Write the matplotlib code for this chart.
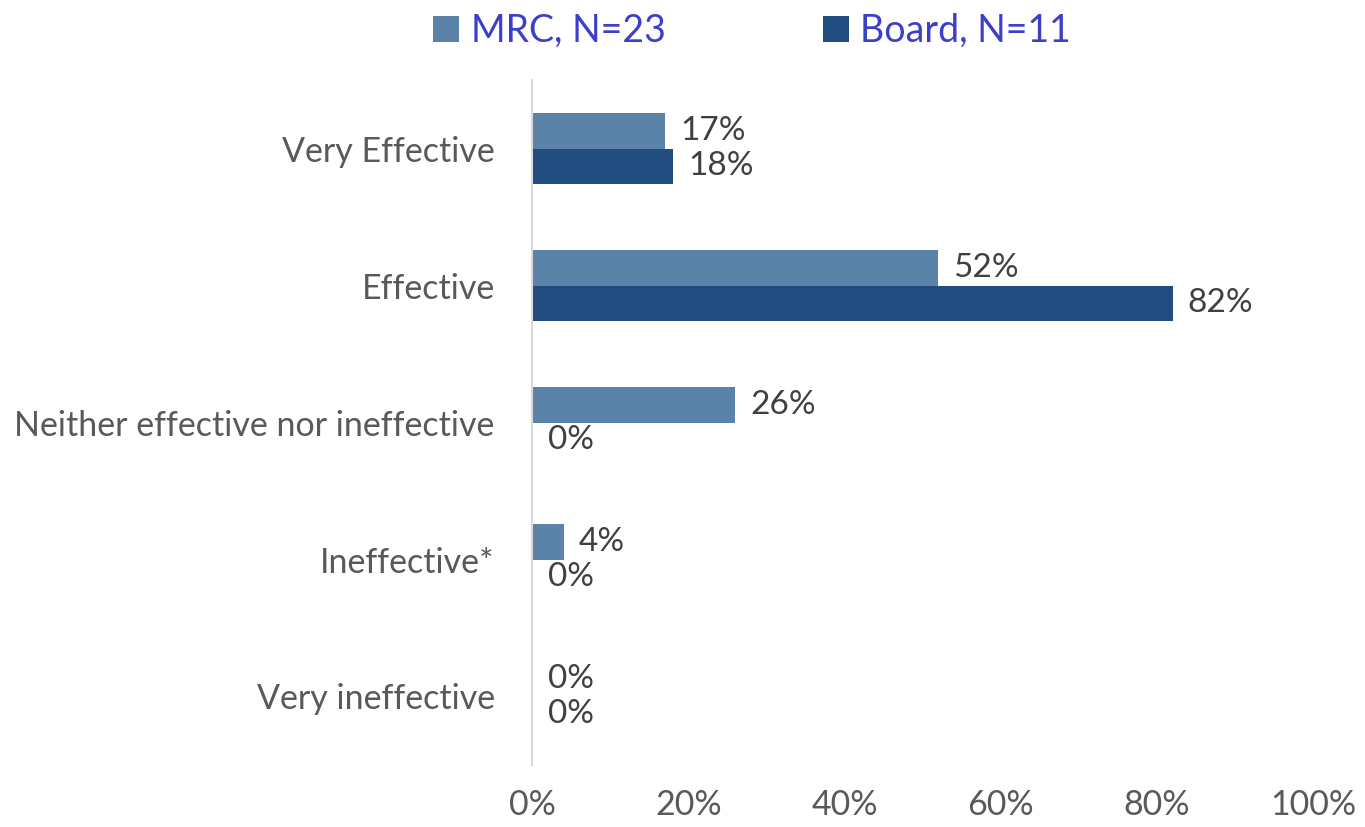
import matplotlib.pyplot as plt
import numpy as np

categories = ["Very Effective", "Effective", "Neither effective nor ineffective",
              "Ineffective*", "Very ineffective"]
mrc = [17, 52, 26, 4, 0]
board = [18, 82, 0, 0, 0]
series_names = ["MRC, N=23", "Board, N=11"]

mrc_color = "#5b83a9"
board_color = "#214c7f"
font = "Lato"

fig = plt.figure(figsize=(13.65, 8.27), dpi=100)
ax = fig.add_axes([0.39, 0.075, 0.572, 0.828])

y = np.arange(len(categories))
h = 0.26
b1 = ax.barh(y - h / 2, mrc, height=h, color=mrc_color, label=series_names[0])
b2 = ax.barh(y + h / 2, board, height=h, color=board_color, label=series_names[1])

for bars, vals in ((b1, mrc), (b2, board)):
    for bar, v in zip(bars, vals):
        ax.annotate(f"{v}%", (v, bar.get_y() + bar.get_height() / 2),
                    xytext=(11, 0), textcoords="offset points",
                    ha="left", va="center", fontsize=24, color="#404040",
                    family=font)

ax.set_xlim(0, 100)
ax.set_ylim(len(categories) - 0.5, -0.5)
ax.set_yticks(y)
ax.set_yticklabels(categories)
ax.set_xticks(range(0, 101, 20))
ax.set_xticklabels([f"{t}%" for t in range(0, 101, 20)])
ax.tick_params(axis="both", length=0, labelsize=24.5, labelcolor="#595959")
ax.tick_params(axis="x", pad=17)
ax.tick_params(axis="y", pad=27)
for lab in ax.get_xticklabels() + ax.get_yticklabels():
    lab.set_family(font)

for s in ["top", "right", "bottom"]:
    ax.spines[s].set_visible(False)
ax.spines["left"].set_color("#d9d9d9")
ax.spines["left"].set_linewidth(1.5)

leg = fig.legend(loc="upper center", bbox_to_anchor=(0.551, 1.025), ncol=2,
                 frameon=False, handlelength=0.7, handleheight=0.7,
                 handletextpad=0.3, columnspacing=4.2,
                 prop={"family": font, "size": 27})
for t in leg.get_texts():
    t.set_color("#3b3fc9")

fig.savefig("out.png")
